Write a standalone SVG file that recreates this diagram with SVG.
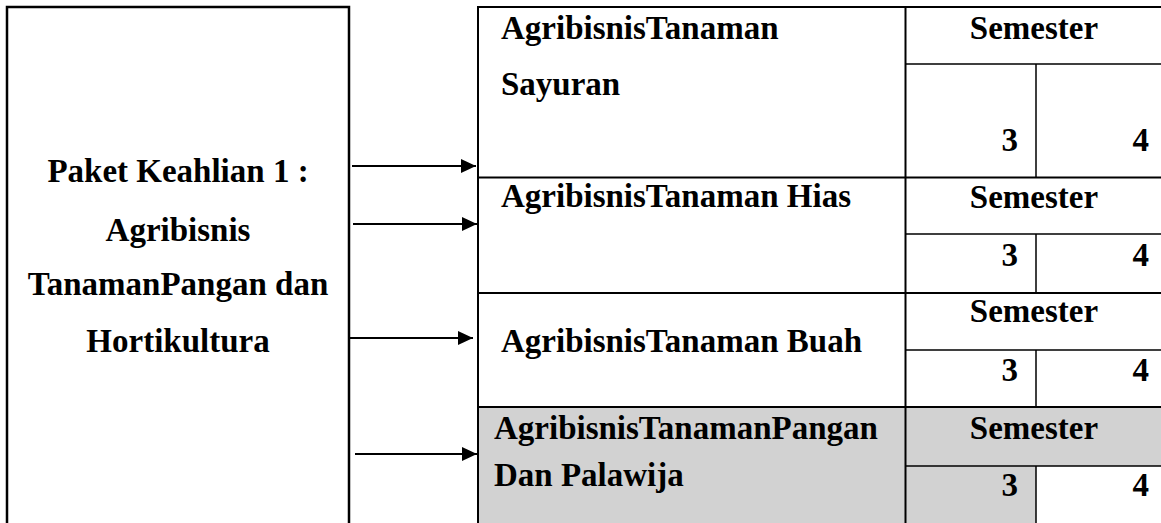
<svg xmlns="http://www.w3.org/2000/svg" width="1161" height="523" viewBox="0 0 1161 523">
<style>
.t{font-family:"Liberation Serif","Times New Roman",serif;font-weight:bold;font-size:33px;fill:#000}
.c{text-anchor:middle}
.r{text-anchor:end}
.ln{stroke:#000;stroke-width:2.5;fill:none}
.tl{stroke:#000;stroke-width:2;fill:none}
.th{stroke:#000;stroke-width:1.5;fill:none}
.sh{fill:#d2d2d2}
.ar{stroke:#000;stroke-width:2;fill:none}
</style>
<defs>
<marker id="ah" markerUnits="userSpaceOnUse" markerWidth="16" markerHeight="15" refX="15" refY="7" orient="auto">
<path d="M0,0 L15,7 L0,14 z" fill="#000"/>
</marker>
</defs>
<rect width="1161" height="523" fill="#fff"/>
<g id="paket">
<path class="ln" d="M7,523 V7 H349 V523"/>
<text class="t c" x="178" y="182">Paket Keahlian 1 :</text>
<text class="t c" x="178" y="241">Agribisnis</text>
<text class="t c" x="178" y="295">TanamanPangan dan</text>
<text class="t c" x="178" y="352">Hortikultura</text>
</g>
<g id="shading">
<rect class="sh" x="478" y="407" width="427" height="116"/>
<rect class="sh" x="905" y="407" width="256" height="59"/>
<rect class="sh" x="905" y="466" width="131" height="57"/>
</g>
<g id="table-grid">
<path class="tl" d="M478,523 V7 H1161"/>
<path class="tl" d="M905.5,7 V523"/>
<path class="tl" d="M478,177.5 H1161 M478,293 H1161 M478,407 H1161"/>
<path class="th" d="M905,64 H1161 M905,234 H1161 M905,350 H1161 M905,466 H1161"/>
<path class="th" d="M1036,64 V177 M1036,234 V293 M1036,350 V407 M1036,466 V523"/>
</g>
<g id="sayuran">
<text class="t" x="501" y="39">AgribisnisTanaman</text>
<text class="t" x="501" y="95">Sayuran</text>
<text class="t c" x="1034" y="39">Semester</text>
<text class="t r" x="1018" y="151">3</text>
<text class="t r" x="1149" y="151">4</text>
</g>
<g id="hias">
<text class="t" x="501" y="207">AgribisnisTanaman Hias</text>
<text class="t c" x="1034" y="208">Semester</text>
<text class="t r" x="1018" y="266">3</text>
<text class="t r" x="1149" y="266">4</text>
</g>
<g id="buah">
<text class="t" x="501" y="352">AgribisnisTanaman Buah</text>
<text class="t c" x="1034" y="322">Semester</text>
<text class="t r" x="1018" y="381">3</text>
<text class="t r" x="1149" y="381">4</text>
</g>
<g id="pangan">
<text class="t" x="494" y="439">AgribisnisTanamanPangan</text>
<text class="t" x="494" y="486">Dan Palawija</text>
<text class="t c" x="1034" y="439">Semester</text>
<text class="t r" x="1018" y="496">3</text>
<text class="t r" x="1149" y="496">4</text>
</g>
<g id="connectors">
<line class="ar" x1="352" y1="166" x2="476" y2="166" marker-end="url(#ah)"/>
<line class="ar" x1="353" y1="224" x2="477" y2="224" marker-end="url(#ah)"/>
<line class="ar" x1="349" y1="338" x2="473" y2="338" marker-end="url(#ah)"/>
<line class="ar" x1="355" y1="454" x2="477" y2="454" marker-end="url(#ah)"/>
</g>
</svg>
